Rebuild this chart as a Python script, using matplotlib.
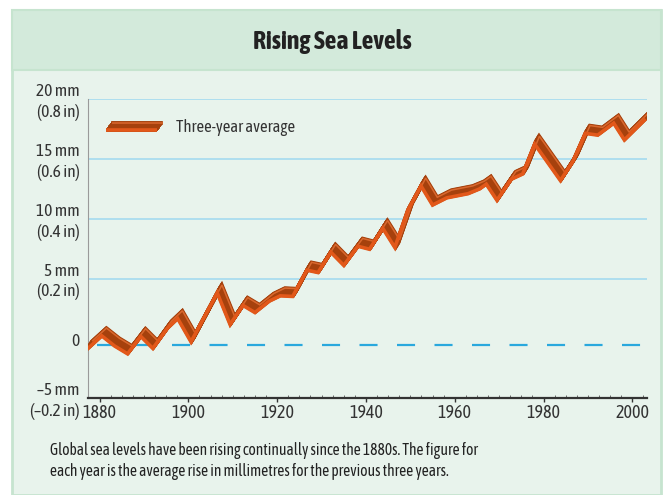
import matplotlib
matplotlib.use("Agg")
import matplotlib.pyplot as plt
import matplotlib.patheffects as pe
from matplotlib.patches import Rectangle
from matplotlib.ticker import MultipleLocator
from matplotlib.transforms import ScaledTranslation

# three-year average sea level rise (mm)
years = [1877.4, 1880.5, 1883.4, 1886.3, 1889.3, 1892.0, 1895.2, 1897.6, 1900.6,
         1906.5, 1909.4, 1912.3, 1915.0, 1918.2, 1920.7, 1923.5, 1926.7, 1929.2,
         1932.1, 1935.0, 1938.2, 1940.8, 1943.8, 1946.5, 1949.4, 1952.4, 1955.0,
         1958.2, 1963.0, 1965.6, 1967.1, 1969.5, 1972.7, 1975.3, 1978.0, 1983.8,
         1986.6, 1989.4, 1992.2, 1995.8, 1998.2, 2002.7]
rise_mm = [-0.85, 0.2, -0.65, -1.3, 0.15, -0.85, 0.8, 1.65, -0.3,
           3.8, 1.15, 2.75, 2.15, 3.1, 3.55, 3.5, 5.7, 5.5,
           7.2, 6.1, 7.7, 7.45, 9.2, 7.6, 10.7, 12.75, 11.15,
           11.75, 12.1, 12.5, 12.9, 11.55, 13.3, 13.75, 16.25, 13.2,
           14.8, 17.15, 17.0, 18.0, 16.6, 18.25]

ytick_vals = [-5, 0, 5, 10, 15, 20]
ytick_labels = ["\u20135 mm\n(\u20130.2 in)", "0", "5 mm\n(0.2 in)",
                "10 mm\n(0.4 in)", "15 mm\n(0.6 in)", "20 mm\n(0.8 in)"]
xtick_vals = [1880, 1900, 1920, 1940, 1960, 1980, 2000]
zero_line = -0.55

title = "Rising Sea Levels"
legend_label = "Three-year average"
caption = ("Global sea levels have been rising continually since the 1880s. The figure for\n"
           "each year is the average rise in millimetres for the previous three years.")

FONT = ["Asap Condensed", "Fira Sans Condensed", "Archivo Narrow", "DejaVu Sans"]
plt.rcParams["font.family"] = FONT
plt.rcParams["lines.scale_dashes"] = False

orange = "#e2581a"
dark = "#a6410d"
top_edge = "#d9682e"


def ribbon(dx=3.4, dy=5.6, n=16, base_lw=2.6):
    effects = []
    for k in range(n, 0, -1):
        effects.append(pe.Stroke(offset=(dx * k / n, dy * k / n), foreground=dark, linewidth=2.6))
    effects.append(pe.Stroke(offset=(dx, dy), foreground=top_edge, linewidth=1.1))
    effects.append(pe.Stroke(foreground=orange, linewidth=base_lw))
    return effects


fig = plt.figure(figsize=(6.65, 4.95), dpi=100)
W, H = 665, 495
# panel background
fig.patches.append(Rectangle((12 / W, 0), 649 / W, 485 / H, transform=fig.transFigure,
                             facecolor="#e8f3ec", edgecolor="#c6e4cf", linewidth=2, zorder=-2))
fig.patches.append(Rectangle((12 / W, 1 - 70 / H), 649 / W, 60 / H, transform=fig.transFigure,
                             facecolor="#d3eadb", edgecolor="#c6e4cf", linewidth=1.5, zorder=-1))
fig.text(0.5, 1 - 42 / H, title, ha="center", va="center", fontsize=18.5,
         fontweight="bold", color="#222222")

ax = fig.add_axes([88 / W, 1 - 398 / H, 559 / W, 298.7 / H])
ax.set_zorder(2)
ax.patch.set_visible(False)
ax.set_xlim(1877.4, 2003.3)
ax.set_ylim(-5, 20)

for v in [5, 10, 15, 20]:
    ax.axhline(v, color="#a9dcef", lw=1.3, zorder=1)
ax.axhline(zero_line, xmin=9 / 559, color="#2aa8dd", lw=1.6, dashes=(13, 14), zorder=1)

ax.plot(years, rise_mm, color=orange, lw=2.6, solid_joinstyle="miter",
        path_effects=ribbon(), zorder=3)

# legend swatch
ax.plot([0.032, 0.123], [0.8956, 0.8956], transform=ax.transAxes, color=orange, lw=2.6,
        solid_capstyle="butt", path_effects=ribbon(dx=4.2, dy=5.4), zorder=3)
ax.text(0.157, 0.907, legend_label, transform=ax.transAxes, ha="left", va="center",
        fontsize=12, color="#333333")

for side in ["top", "right"]:
    ax.spines[side].set_visible(False)
ax.spines["left"].set_color("#9a9a9a")
ax.spines["left"].set_linewidth(0.8)
ax.spines["bottom"].set_color("#333333")
ax.spines["bottom"].set_linewidth(1.6)

ax.set_yticks(ytick_vals)
ax.set_yticklabels(ytick_labels)
ax.set_xticks(xtick_vals)
ax.xaxis.set_minor_locator(MultipleLocator(2.5))
ax.tick_params(axis="y", length=0, pad=6, labelsize=12.5, labelcolor="#333333")
ax.tick_params(axis="x", which="major", length=3, width=1, color="#333333", pad=1,
               labelsize=13, labelcolor="#333333")
ax.tick_params(axis="x", which="minor", direction="in", length=2, width=0.6, color="#555555")
shift = ScaledTranslation(0, -0.03, fig.dpi_scale_trans)
for lab in ax.get_yticklabels():
    lab.set_verticalalignment("center")
    lab.set_linespacing(1.3)
    lab.set_transform(lab.get_transform() + shift)

fig.text(50 / W, 1 - 461 / H, caption, ha="left", va="center", fontsize=11.2,
         color="#222222", linespacing=1.3)

fig.savefig("out.png", dpi=100)
